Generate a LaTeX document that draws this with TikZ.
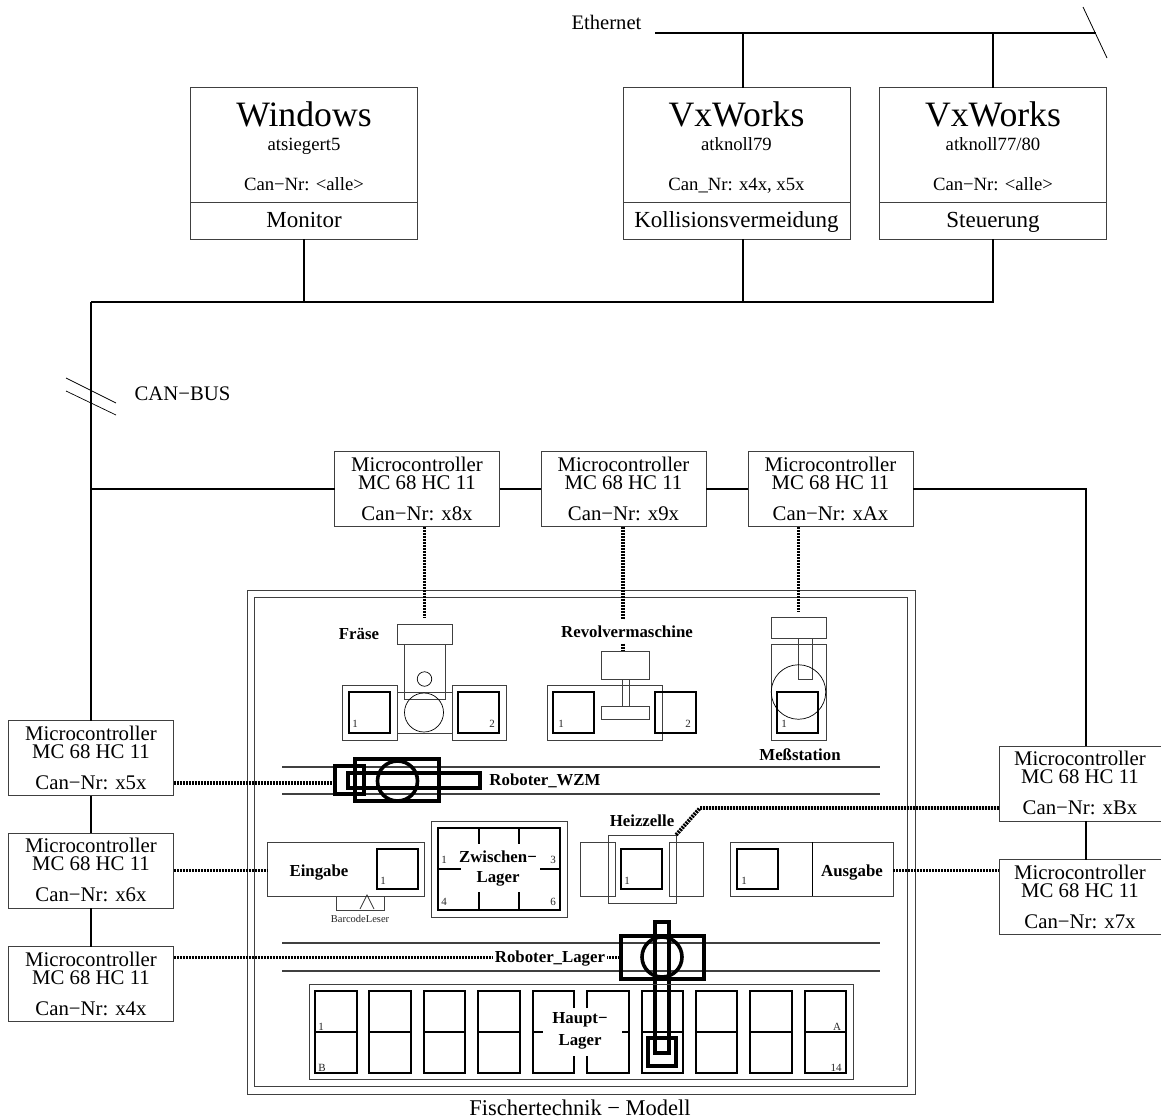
\documentclass[tikz,border=0pt]{standalone}
\usepackage{fontspec}
\setmainfont{Liberation Serif}
\usepackage{tikz}
\usetikzlibrary{positioning,fit}
\newcommand{\hostfont}{\fontsize{35.7}{36}\selectfont}

\begin{document}
\begin{tikzpicture}[x=1pt, y=-1pt, inner sep=0pt, outer sep=0pt,
  host/.style={draw=black!75, line width=1pt, minimum width=227pt, minimum height=114pt, align=center, anchor=north, font=\fontsize{18.7}{19}\selectfont},
  hostlow/.style={draw=black!75, line width=1pt, minimum width=227pt, minimum height=37pt, text height=19pt, text depth=5pt, font=\fontsize{23}{24}\selectfont},
  mcbox/.style={draw=black!75, line width=1pt, minimum width=165pt, minimum height=75pt, align=center, font=\fontsize{20.8}{18}\selectfont},
  bus/.style={line width=2pt},
  link/.style={line width=3.8pt, dash pattern=on 2pt off 1pt},
  rail/.style={draw=black!75, line width=1.1pt},
  stn/.style={draw=black!75, line width=1pt, fit={#1}},
  slot/.style={draw, line width=1.6pt, fit={#1}},
  arm/.style={draw, line width=3.6pt, fit={#1}},
  lbl/.style={font=\bfseries\fontsize{16.8}{20}\selectfont, align=center},
  num/.style={font=\fontsize{11}{12}\selectfont, text=black!85}]
\useasboundingbox (0,0) rectangle (1161,1118);

% ethernet
\coordinate (ethL) at (655,33);
\coordinate (ethR) at (1096,33);
\node[font=\fontsize{20.6}{22}\selectfont] (eth) at (606.5,22) {Ethernet};
\draw[bus] (ethL) -- (ethR);
\draw[line width=0.8pt] (1083,7) coordinate (ethA) -- (1107,58) coordinate (ethB);

% hosts
\node[host] (winT) at (304,88) {{\hostfont\rule{0pt}{32.5pt}Windows}\\[5pt]atsiegert5\\[21pt]Can−Nr: <alle>\rule[-5pt]{0pt}{5pt}};
\node[hostlow, below=0pt of winT] (winB) {Monitor};
\node[host] (vxAT) at (736.5,88) {{\hostfont\rule{0pt}{32.5pt}VxWorks}\\[5pt]atknoll79\\[21pt]Can\_Nr: x4x, x5x\rule[-5pt]{0pt}{5pt}};
\node[hostlow, below=0pt of vxAT] (vxAB) {Kollisionsvermeidung};
\node[host] (vxBT) at (993,88) {{\hostfont\rule{0pt}{32.5pt}VxWorks}\\[5pt]atknoll77/80\\[21pt]Can−Nr: <alle>\rule[-5pt]{0pt}{5pt}};
\node[hostlow, below=0pt of vxBT] (vxBB) {Steuerung};
\draw[bus] ([xshift=6.5pt]vxAT.north |- ethL) -- ([xshift=6.5pt]vxAT.north);
\draw[bus] (vxBT.north |- ethL) -- (vxBT.north);

% can bus
\coordinate (canL) at (91,302);
\draw[bus] (winB.south) -- (winB.south |- canL);
\draw[bus] ([xshift=6.5pt]vxAB.south) -- ([xshift=6.5pt]vxAB.south |- canL);
\draw[bus] (vxBB.south) |- (canL);
\node[font=\fontsize{20.7}{22}\selectfont] (canbus) at (182.5,394) {CAN−BUS};
\draw[line width=0.7pt] (66,378) coordinate (slA) -- (116,403) coordinate (slB);
\draw[line width=0.7pt] (66,391) coordinate (slC) -- (116,415) coordinate (slD);

% microcontrollers
\node[mcbox] (mcF) at (417,489) {Microcontroller\\MC 68 HC 11\\[13pt]Can−Nr: x8x\rule[-1pt]{0pt}{1pt}};
\node[mcbox] (mcR) at (623.5,489) {Microcontroller\\MC 68 HC 11\\[13pt]Can−Nr: x9x\rule[-1pt]{0pt}{1pt}};
\node[mcbox] (mcM) at (830.5,489) {Microcontroller\\MC 68 HC 11\\[13pt]Can−Nr: xAx\rule[-1pt]{0pt}{1pt}};
\node[mcbox] (mcW) at (91,758) {Microcontroller\\MC 68 HC 11\\[13pt]Can−Nr: x5x\rule[-1pt]{0pt}{1pt}};
\node[mcbox] (mcE) at (91,870.5) {Microcontroller\\MC 68 HC 11\\[13pt]Can−Nr: x6x\rule[-1pt]{0pt}{1pt}};
\node[mcbox] (mcL) at (91,984) {Microcontroller\\MC 68 HC 11\\[13pt]Can−Nr: x4x\rule[-1pt]{0pt}{1pt}};
\node[mcbox, minimum width=162pt] (mcH) at (1080,783.5) {Microcontroller\\MC 68 HC 11\\[13pt]Can−Nr: xBx\rule[-1pt]{0pt}{1pt}};
\node[mcbox, minimum width=162pt] (mcA) at (1080,897) {Microcontroller\\MC 68 HC 11\\[13pt]Can−Nr: x7x\rule[-1pt]{0pt}{1pt}};
\draw[bus] (canL) -- (mcW.north);
\draw[bus] (mcW.south) -- (mcE.north); \draw[bus] (mcE.south) -- (mcL.north);
\draw[bus] (canL |- mcF.west) coordinate (canT) -- (mcF.west);
\draw[bus] (mcF) -- (mcR); \draw[bus] (mcR) -- (mcM);
\draw[bus] (mcM.east) -| ([xshift=6pt]mcH.north);
\draw[bus] ([xshift=6pt]mcH.south) -- ([xshift=6pt]mcA.north);

% model frames
\node[stn={(247,590) (915,1094)}] (outer) {};
\node[stn={(254,597) (907,1086)}] (inner) {};
\node[font=\fontsize{22.5}{24}\selectfont] (title) at (580,1107.5) {Fischertechnik − Modell};

% fraese
\node[stn={(397,624) (452,644)}] (frTop) {};
\node[stn={(404,644) (445,699)}] (frBody) {};
\node[stn={(342,685) (397,740)}] (frL) {};
\node[stn={(452,685) (506,740)}] (frR) {};
\node[stn={(397,692) (452,733)}] (frM) {};
\node[slot={(349,692) (390,733)}] (frSL) {};
\node[slot={(458,692) (499,733)}] (frSR) {};
\node[circle, draw, line width=0.7pt, minimum size=14.5pt] (frS) at (424.5,679) {};
\node[circle, draw, line width=0.7pt, minimum size=39pt] (frC) at (424,712.5) {};
\node[num] (frNa) at (355,724) {1};
\node[num] (frNb) at (492,724) {2};
\node[lbl] (frT) at (359,634) {Fräse};
\draw[link, shorten >=6pt] (mcF.south -| frTop.north) -- (frTop.north);

% revolver
\node[stn={(601,651) (649,679)}] (reTop) {};
\node[stn={(622,679) (629,706)}] (reShaft) {};
\node[stn={(601,706) (649,719)}] (reFoot) {};
\node[stn={(547,685) (662,740)}] (reBody) {};
\node[slot={(553,692) (594,733)}] (reSL) {};
\node[slot={(655,692) (696,733)}] (reSR) {};
\node[num] (reNa) at (561,724) {1};
\node[num] (reNb) at (688,724) {2};
\draw[link] ([xshift=-0.5pt]mcR.south) -- ([xshift=-0.5pt]mcR.south |- reTop.north);
\node[lbl, fill=white, minimum height=23pt] (reT) at (627,631.5) {Revolvermaschine};

% messstation
\node[stn={(771,617) (826,638)}] (meTop) {};
\node[stn={(771,644) (826,740)}] (meBody) {};
\node[stn={(798,638) (812,679)}] (meShaft) {};
\node[slot={(777,692) (818,733)}] (meS) {};
\node[circle, draw, line width=0.7pt, minimum size=54.5pt] (meC) at (798.5,692) {};
\node[num] (meN) at (784,724) {1};
\node[lbl] (meT) at (800,755) {Meßstation};
\draw[link, shorten >=5pt] (mcM.south -| meC.north) -- (meTop.north -| meC.north);

% roboter wzm
\coordinate (wzmA) at (282,767); \coordinate (wzmB) at (880,767);
\coordinate (wzmC) at (282,794); \coordinate (wzmD) at (880,794);
\draw[rail] (wzmA) -- (wzmB); \draw[rail] (wzmC) -- (wzmD);
\node[arm={(355,759) (439,801)}] (rwB) {};
\node[arm={(348,773) (480,788)}] (rwA) {};
\node[arm={(335,766) (364,794)}] (rwG) {};
\node[circle, draw, line width=3.6pt, minimum size=40pt] (rwC) at (397.5,781) {};
\node[lbl] (rwT) at (545,781) {Roboter\_WZM};
\draw[link] ([yshift=-25pt]mcW.east) -- ([yshift=-25pt]mcW.east -| rwG.west);

% eingabe
\node[stn={(267,842) (424,896)}] (ein) {};
\node[slot={(377,849) (418,889)}] (einS) {};
\node[num] (einN) at (383,881) {1};
\node[lbl] (einT) at (319,873) {Eingabe};
\node[stn={(336,896) (384,910)}] (bar) {};
\coordinate (barA) at (360,909); \coordinate (barB) at (367,895); \coordinate (barC) at (374,909);
\draw[black!80, line width=0.8pt] (barA) -- (barB) -- (barC);
\node[num, font=\fontsize{10.5}{11}\selectfont] (barT) at (360,919) {BarcodeLeser};
\draw[link] (mcE.east) -- (mcE.east -| ein.west);

% zwischenlager
\node[stn={(431,821) (567,917)}] (zwO) {};
\node[slot={(438,828) (560,910)}] (zwI) {};
\foreach \xa in {479,519} {
  \draw[line width=1.6pt] (\xa,828) -- (\xa,844);
  \draw[line width=1.6pt] (\xa,892) -- (\xa,910);
}
\draw[line width=1.6pt] (438,869) -- (461,869);
\draw[line width=1.6pt] (540,869) -- (560,869);
\node[num] (zwNa) at (444,860) {1};
\node[num] (zwNb) at (553,860) {3};
\node[num] (zwNc) at (444,902) {4};
\node[num] (zwNd) at (553,902) {6};
\node[lbl] (zwT) at (498,869) {Zwischen−\\Lager};

% heizzelle
\node[stn={(608,835) (676,903)}] (heO) {};
\node[stn={(580,842) (615,896)}] (heL) {};
\node[stn={(669,842) (703,896)}] (heR) {};
\node[slot={(621,849) (662,889)}] (heS) {};
\node[num] (heN) at (627,881) {1};
\node[lbl] (heT) at (642,821) {Heizzelle};
\coordinate (heK) at (700,808);
\draw[link] (mcH.west |- heK) -- (heK) -- (heO.north east);

% ausgabe
\node[stn={(730,842) (893,896)}] (aus) {};
\node[slot={(737,849) (778,889)}] (ausS) {};
\draw[line width=1pt] (aus.north -| 812,0) -- (aus.south -| 812,0);
\node[num] (ausN) at (744,881) {1};
\node[lbl] (ausT) at (852,873) {Ausgabe};
\draw[link] ([yshift=-1.5pt]aus.east) -- ([yshift=-1.5pt]aus.east -| mcA.west);

% roboter lager
\coordinate (lagA) at (282,943); \coordinate (lagB) at (880,943);
\coordinate (lagC) at (282,971); \coordinate (lagD) at (880,971);
\draw[rail] (lagA) -- (lagB); \draw[rail] (lagC) -- (lagD);
\node[arm={(621,936) (704,979)}] (rlB) {};
\node[arm={(655,922) (669,1053)}] (rlA) {};
\node[arm={(648,1038) (676,1066)}] (rlG) {};
\node[circle, draw, line width=3.6pt, minimum size=40pt] (rlC) at (662,957) {};
\draw[link] (mcL.east |- rlB.west) -- (rlB.west);
\node[lbl, fill=white, minimum width=114pt, minimum height=22pt] (rlT) at (550,959) {Roboter\_Lager};

% hauptlager
\node[stn={(309,984) (853,1079)}] (haO) {};
\foreach \xa/\xb [count=\n] in {315/357,369/411,424/465,478/520,642/683,696/737,750/792,805/846} {
  \node[slot={(\xa,991) (\xb,1073)}] (haC\n) {};
  \draw[line width=1.5pt] (haC\n.west) -- (haC\n.east);
}
\draw[line width=1.6pt] (574,1008) |- (533,991) |- (574,1073) -- (574,1056);
\draw[line width=1.6pt] (587,1008) |- (629,991) |- (587,1073) -- (587,1056);
\draw[line width=1.5pt] (533,1032) -- (543,1032);
\draw[line width=1.5pt] (622,1032) -- (629,1032);
\node[num] (haNa) at (321,1027) {1};
\node[num] (haNb) at (322,1068) {B};
\node[num] (haNc) at (837,1027) {A};
\node[num] (haNd) at (836,1068) {14};
\node[lbl] (haT) at (580,1031) {Haupt−\\[2pt]Lager};
\end{tikzpicture}
\end{document}
